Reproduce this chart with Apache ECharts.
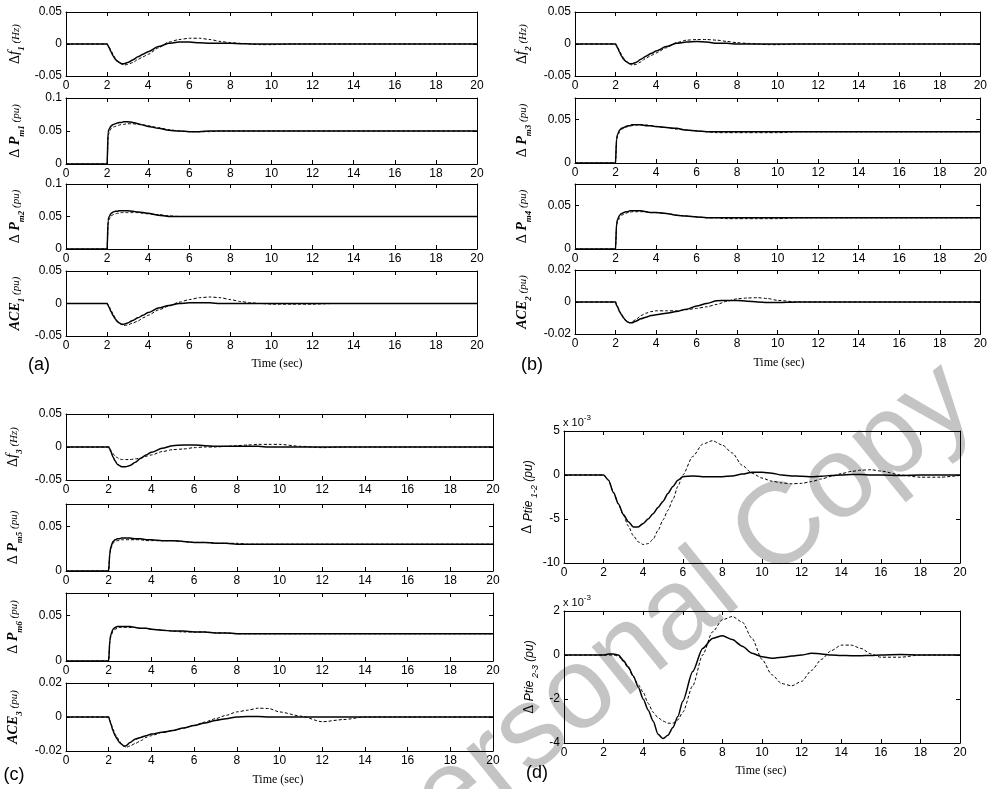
<!DOCTYPE html>
<html><head><meta charset="utf-8">
<script src="https://cdn.jsdelivr.net/npm/echarts@6/dist/echarts.min.js"></script>
<style>html,body{margin:0;padding:0;background:#fff}#c{width:990px;height:789px}</style>
</head><body><div id="c"></div>
<script>
// ---------- DATA ----------
const T = [0,2,2.05,2.1,2.2, 2.3,2.4,2.5,2.6,2.7, 2.8,3,3.25,3.5,3.75, 4,4.5,5,5.5,6, 6.5,7,7.5,8,8.5, 9,9.5,10,11,12, 13,14,16,18,20];
const xTicks = [0,2,4,6,8,10,12,14,16,18,20];

const df1Solid  = [0,0,-0.003,-0.006,-0.013, -0.019,-0.024,-0.027,-0.029,-0.031, -0.031,-0.029,-0.025,-0.020,-0.016, -0.012,-0.004,0.001,0.003,0.003, 0.002,0.001,0.001,0.001,0.0005, 0,0,0,0,0, 0,0,0,0,0];
const df1Dashed = [0,0,-0.002,-0.005,-0.011, -0.017,-0.022,-0.026,-0.029,-0.031, -0.033,-0.032,-0.029,-0.024,-0.020, -0.016,-0.006,0.003,0.007,0.009, 0.009,0.007,0.004,0.002,0.001, 0,-0.001,-0.001,0,0, 0,0,0,0,0];
const pm1Solid  = [0,0,0.048,0.053,0.058, 0.060,0.061,0.062,0.063,0.063, 0.064,0.064,0.063,0.061,0.059, 0.057,0.054,0.051,0.050,0.049, 0.049,0.050,0.050,0.050,0.050, 0.050,0.050,0.050,0.050,0.050, 0.050,0.050,0.050,0.050,0.050];
const pm1Dashed = [0,0,0.042,0.048,0.054, 0.056,0.057,0.058,0.059,0.060, 0.060,0.061,0.061,0.060,0.059, 0.058,0.055,0.052,0.050,0.049, 0.049,0.049,0.050,0.050,0.050, 0.050,0.050,0.050,0.050,0.050, 0.050,0.050,0.050,0.050,0.050];
const pm2Solid  = [0,0,0.044,0.050,0.055, 0.057,0.058,0.058,0.059,0.059, 0.059,0.059,0.058,0.057,0.056, 0.055,0.052,0.050,0.050,0.050, 0.050,0.050,0.050,0.050,0.050, 0.050,0.050,0.050,0.050,0.050, 0.050,0.050,0.050,0.050,0.050];
const pm2Dashed = [0,0,0.040,0.046,0.051, 0.053,0.054,0.055,0.055,0.056, 0.056,0.056,0.056,0.056,0.055, 0.054,0.053,0.051,0.050,0.050, 0.050,0.050,0.050,0.050,0.050, 0.050,0.050,0.050,0.050,0.050, 0.050,0.050,0.050,0.050,0.050];
const ace1Solid  = [0,0,-0.003,-0.006,-0.013, -0.019,-0.024,-0.028,-0.030,-0.032, -0.032,-0.030,-0.026,-0.022,-0.018, -0.014,-0.007,-0.003,0,0.001, 0.001,0.001,0,0,0, 0,0,0,0,0, 0,0,0,0,0];
const ace1Dashed = [0,0,-0.002,-0.005,-0.011, -0.017,-0.022,-0.027,-0.030,-0.032, -0.034,-0.033,-0.030,-0.027,-0.022, -0.018,-0.010,-0.004,0.002,0.006, 0.009,0.010,0.009,0.006,0.003, 0.001,0,-0.001,-0.001,-0.001, 0,0,0,0,0];

const df2Solid  = [0,0,-0.003,-0.006,-0.013, -0.019,-0.024,-0.027,-0.029,-0.031, -0.031,-0.029,-0.024,-0.019,-0.015, -0.011,-0.004,0.001,0.003,0.004, 0.003,0.001,0.001,0,0, 0,0,0,0,0, 0,0,0,0,0];
const df2Dashed = [0,0,-0.002,-0.005,-0.011, -0.017,-0.022,-0.026,-0.029,-0.031, -0.033,-0.032,-0.028,-0.022,-0.018, -0.014,-0.006,0.002,0.006,0.007, 0.007,0.006,0.004,0.002,0.001, 0,-0.001,-0.001,0,0, 0,0,0,0,0];
const pm3Solid  = [0,0,0.028,0.033,0.038, 0.040,0.041,0.042,0.043,0.043, 0.044,0.044,0.044,0.043,0.043, 0.042,0.041,0.040,0.038,0.037, 0.036,0.036,0.036,0.036,0.036, 0.036,0.036,0.036,0.036,0.036, 0.036,0.036,0.036,0.036,0.036];
const pm3Dashed = [0,0,0.026,0.031,0.036, 0.039,0.040,0.041,0.042,0.043, 0.043,0.044,0.044,0.044,0.043, 0.042,0.041,0.039,0.038,0.037, 0.036,0.035,0.035,0.035,0.035, 0.035,0.035,0.035,0.036,0.036, 0.036,0.036,0.036,0.036,0.036];
const pm4Solid  = [0,0,0.029,0.034,0.039, 0.041,0.042,0.043,0.043,0.044, 0.044,0.044,0.044,0.043,0.042, 0.042,0.041,0.039,0.038,0.037, 0.036,0.036,0.036,0.036,0.036, 0.036,0.036,0.036,0.036,0.036, 0.036,0.036,0.036,0.036,0.036];
const pm4Dashed = [0,0,0.026,0.031,0.036, 0.039,0.040,0.041,0.042,0.042, 0.043,0.043,0.043,0.043,0.042, 0.042,0.041,0.039,0.038,0.037, 0.036,0.036,0.035,0.035,0.035, 0.035,0.035,0.035,0.036,0.036, 0.036,0.036,0.036,0.036,0.036];
const ace2Solid  = [0,0,-0.002,-0.003,-0.006, -0.008,-0.010,-0.0115,-0.0125,-0.013, -0.013,-0.012,-0.0105,-0.0095,-0.0085, -0.008,-0.007,-0.006,-0.0045,-0.0025, -0.001,0.0008,0.001,0.001,0.0005, 0,-0.0003,-0.0003,0,0, 0,0,0,0,0];
const ace2Dashed = [0,0,-0.002,-0.003,-0.006, -0.008,-0.010,-0.0115,-0.0125,-0.013, -0.0125,-0.011,-0.0085,-0.007,-0.006, -0.0055,-0.0055,-0.0055,-0.0048,-0.004, -0.003,-0.0015,0.0005,0.002,0.0025, 0.0027,0.0022,0.001,0,0, 0,0,0,0,0];

const df3Solid  = [0,0,-0.003,-0.007,-0.015, -0.021,-0.026,-0.028,-0.030,-0.030, -0.030,-0.028,-0.023,-0.017,-0.012, -0.008,-0.002,0.002,0.003,0.003, 0.002,0.001,0.001,0.001,0.001, 0.001,0,0,0,0, 0,0,0,0,0];
const df3Dashed = [0,0,-0.002,-0.005,-0.010, -0.014,-0.016,-0.018,-0.019,-0.019, -0.019,-0.019,-0.018,-0.017,-0.014, -0.012,-0.007,-0.004,-0.003,-0.001, 0,0,0.001,0.002,0.003, 0.004,0.004,0.004,0.001,-0.001, 0,0,0,0,0];
const pm5Solid  = [0,0,0.020,0.027,0.033, 0.035,0.036,0.036,0.037,0.037, 0.037,0.037,0.036,0.036,0.035, 0.035,0.034,0.034,0.033,0.032, 0.032,0.031,0.031,0.030,0.030, 0.030,0.030,0.030,0.030,0.030, 0.030,0.030,0.030,0.030,0.030];
const pm5Dashed = [0,0,0.018,0.025,0.031, 0.033,0.034,0.034,0.035,0.035, 0.035,0.035,0.035,0.035,0.034, 0.034,0.034,0.034,0.033,0.032, 0.032,0.031,0.031,0.031,0.030, 0.030,0.030,0.030,0.030,0.030, 0.030,0.030,0.030,0.030,0.030];
const pm6Solid  = [0,0,0.022,0.029,0.035, 0.037,0.038,0.038,0.038,0.038, 0.038,0.038,0.037,0.036,0.036, 0.035,0.034,0.033,0.033,0.032, 0.032,0.031,0.031,0.030,0.030, 0.030,0.030,0.030,0.030,0.030, 0.030,0.030,0.030,0.030,0.030];
const pm6Dashed = [0,0,0.020,0.027,0.033, 0.035,0.036,0.037,0.037,0.037, 0.037,0.037,0.037,0.036,0.036, 0.035,0.034,0.033,0.032,0.032, 0.032,0.031,0.031,0.030,0.030, 0.030,0.030,0.030,0.030,0.030, 0.030,0.030,0.030,0.030,0.030];
const ace3Solid  = [0,0,-0.002,-0.004,-0.008, -0.011,-0.013,-0.015,-0.016,-0.017, -0.017,-0.015,-0.013,-0.012,-0.011, -0.010,-0.009,-0.008,-0.0065,-0.005, -0.0035,-0.002,-0.001,0,0.0003, 0.0003,0,0,0,0, 0,0,0,0,0];
const ace3Dashed = [0,0,-0.002,-0.004,-0.007, -0.010,-0.012,-0.014,-0.016,-0.017, -0.018,-0.017,-0.0155,-0.014,-0.012, -0.011,-0.009,-0.008,-0.0065,-0.005, -0.003,-0.001,0.001,0.003,0.004, 0.0052,0.005,0.003,0.0005,-0.0028, -0.0015,0,0,0,0];

// panel (d), values in units of 1e-3
const TD = [0,2,2.25,2.5,2.75, 3,3.25,3.5,3.75,4, 4.25,4.5,4.75,5,5.25, 5.5,5.75,6,6.5,7, 7.5,8,8.5,9,9.5, 10,10.5,11,11.5,12, 12.5,13,13.5,14,14.5, 15,15.5,16,17,18, 19,20];
const tie12Solid  = [0,0,-0.6,-2.0,-3.3, -4.5,-5.3,-5.9,-5.9,-5.5, -5.0,-4.4,-3.7,-3.0,-2.1, -1.3,-0.6,-0.2,-0.1,-0.2, -0.2,-0.2,-0.1,0.1,0.3, 0.3,0.2,0,-0.1,-0.15, -0.2,-0.15,-0.05,0,0.05, 0.05,0,0,-0.05,0, 0,0];
const tie12Dashed = [0,0,-0.6,-2.0,-3.3, -4.6,-5.8,-6.9,-7.6,-7.9, -7.8,-7.3,-6.3,-5.1,-4.0, -2.8,-1.3,0,2.1,3.5, 3.9,3.4,2.5,1.1,0.2, -0.35,-0.7,-0.9,-1.0,-0.95, -0.75,-0.45,-0.15,0.15,0.4, 0.55,0.6,0.45,0,-0.25, -0.25,-0.05];
const tie23Solid  = [0,0,0.05,0.05,0, -0.25,-0.55,-0.95,-1.45,-2.0, -2.5,-3.0,-3.6,-3.8,-3.65, -3.3,-2.8,-2.1,-0.75,0.3, 0.75,0.88,0.7,0.4,0.08, -0.08,-0.15,-0.1,-0.05,0, 0.08,0.05,0,-0.02,-0.03, -0.03,-0.02,0,0.02,0, 0,0];
const tie23Dashed = [0,0,0,0,-0.05, -0.3,-0.6,-1.0,-1.35,-1.7, -2.2,-2.6,-2.85,-3.0,-3.1, -3.1,-2.95,-2.6,-1.4,0, 1.05,1.6,1.75,1.5,0.75, -0.2,-0.9,-1.3,-1.4,-1.2, -0.7,-0.2,0.2,0.45,0.45, 0.3,0.05,-0.1,-0.1,0, 0,0];

// ---------- LAYOUT ----------
const SERIF = 'Liberation Serif';
const SANS = 'Liberation Sans';
const plots = [
  // (a)
  {l:66, t:12,  w:411, h:64, min:-0.05, max:0.05, step:0.05, name:'{d|Δ}{i|f}{s|1}{u| (Hz)}',  gap:40, x:T, s:df1Solid, dd:df1Dashed},
  {l:66, t:98,  w:411, h:66, min:0, max:0.1, step:0.05,      name:'{d|Δ }{b|P}{s|m1}{u| (pu)}', gap:40, x:T, s:pm1Solid, dd:pm1Dashed},
  {l:66, t:184, w:411, h:65, min:0, max:0.1, step:0.05,      name:'{d|Δ }{b|P}{s|m2}{u| (pu)}', gap:40, x:T, s:pm2Solid, dd:pm2Dashed},
  {l:66, t:271, w:411, h:65, min:-0.05, max:0.05, step:0.05, name:'{b|ACE}{s|1}{u| (pu)}',      gap:40, x:T, s:ace1Solid, dd:ace1Dashed},
  // (b)
  {l:575, t:12,  w:411, h:64, min:-0.05, max:0.05, step:0.05, name:'{d|Δ}{i|f}{s|2}{u| (Hz)}',  gap:42, x:T, s:df2Solid, dd:df2Dashed},
  {l:575, t:98,  w:411, h:65, min:0, max:0.075, step:0.05,    name:'{d|Δ }{b|P}{s|m3}{u| (pu)}', gap:42, x:T, s:pm3Solid, dd:pm3Dashed},
  {l:575, t:184, w:411, h:65, min:0, max:0.075, step:0.05,    name:'{d|Δ }{b|P}{s|m4}{u| (pu)}', gap:42, x:T, s:pm4Solid, dd:pm4Dashed},
  {l:575, t:270, w:411, h:64, min:-0.02, max:0.02, step:0.02, name:'{b|ACE}{s|2}{u| (pu)}',      gap:42, x:T, s:ace2Solid, dd:ace2Dashed},
  // (c)
  {l:66, t:414, w:427, h:66, min:-0.05, max:0.05, step:0.05, name:'{d|Δ}{i|f}{s|3}{u| (Hz)}',  gap:42, x:T, s:df3Solid, dd:df3Dashed},
  {l:66, t:504, w:427, h:67, min:0, max:0.075, step:0.05,    name:'{d|Δ }{b|P}{s|m5}{u| (pu)}', gap:42, x:T, s:pm5Solid, dd:pm5Dashed},
  {l:66, t:593, w:427, h:68, min:0, max:0.075, step:0.05,    name:'{d|Δ }{b|P}{s|m6}{u| (pu)}', gap:42, x:T, s:pm6Solid, dd:pm6Dashed},
  {l:66, t:683, w:427, h:68, min:-0.02, max:0.02, step:0.02, name:'{b|ACE}{s|3}{u| (pu)}',      gap:42, x:T, s:ace3Solid, dd:ace3Dashed},
  // (d)
  {l:564, t:431, w:396, h:132, min:-10, max:5, step:5, name:'{d|Δ }{p|Ptie}{q| 1-2}{p| (pu)}', gap:24, x:TD, s:tie12Solid, dd:tie12Dashed},
  {l:564, t:611, w:396, h:132, min:-4, max:2, step:2,  name:'{d|Δ }{p|Ptie}{q| 2-3}{p| (pu)}', gap:24, x:TD, s:tie23Solid, dd:tie23Dashed}
];

// normal tokens sit on a common baseline; subscript tokens drop below it
const base = (ff, fs, extra) => Object.assign({fontFamily: ff, fontSize: fs, lineHeight: Math.round(fs * 1.15),
  verticalAlign: 'bottom', padding: [0, 0, 4, 0], color: '#000'}, extra || {});
const rich = {
  d: base(SERIF, 14),
  i: base(SERIF, 15, {fontStyle: 'italic'}),
  b: base(SERIF, 14, {fontStyle: 'italic', fontWeight: 'bold'}),
  u: base(SERIF, 11, {fontStyle: 'italic'}),
  s: {fontFamily: SERIF, fontSize: 9, fontStyle: 'italic', fontWeight: 'bold', lineHeight: 10, verticalAlign: 'bottom', color: '#000'},
  p: base(SANS, 12, {fontStyle: 'italic'}),
  q: {fontFamily: SANS, fontSize: 9, fontStyle: 'italic', lineHeight: 10, verticalAlign: 'bottom', color: '#000'}
};

const axisLineStyle = {show: true, onZero: false, lineStyle: {color: '#000', width: 1}};
const tickStyle = {show: true, inside: true, length: 4, lineStyle: {color: '#000', width: 1}};

const grid = [], xAxis = [], yAxis = [], series = [];
plots.forEach((p, k) => {
  grid.push({left: p.l, top: p.t, width: p.w, height: p.h, containLabel: false});
  const xb = {type: 'value', gridIndex: k, min: xTicks[0], max: xTicks[xTicks.length - 1], interval: xTicks[1] - xTicks[0],
    axisLine: axisLineStyle, axisTick: tickStyle, splitLine: {show: false}};
  xAxis.push(Object.assign({}, xb, {position: 'bottom',
    axisLabel: {color: '#000', fontSize: 12, fontFamily: SANS, margin: 4}}));
  xAxis.push(Object.assign({}, xb, {position: 'top', axisLabel: {show: false}}));
  const step = p.step;
  const fmt = v => (Math.abs(v / step - Math.round(v / step)) < 1e-6) ? String(+v.toFixed(6)) : '';
  const ybase = {type: 'value', gridIndex: k, min: p.min, max: p.max, interval: step,
    axisLine: axisLineStyle, axisTick: tickStyle, splitLine: {show: false}};
  yAxis.push(Object.assign({}, ybase, {position: 'left',
    axisLabel: {color: '#000', fontSize: 12, fontFamily: SANS, margin: 4, formatter: fmt},
    name: p.name, nameLocation: 'middle', nameRotate: 90, nameGap: p.gap,
    nameTextStyle: {rich: rich}}));
  yAxis.push(Object.assign({}, ybase, {position: 'right', axisLabel: {show: false}}));
  const mk = (vals) => p.x.map((t, i) => [t, vals[i]]);
  series.push({type: 'line', xAxisIndex: 2 * k, yAxisIndex: 2 * k, data: mk(p.dd), symbol: 'none',
    smooth: 0.25, smoothMonotone: 'x', lineStyle: {color: '#000', width: 1, type: [3, 2]}, silent: true, animation: false});
  series.push({type: 'line', xAxisIndex: 2 * k, yAxisIndex: 2 * k, data: mk(p.s), symbol: 'none',
    smooth: 0.25, smoothMonotone: 'x', lineStyle: {color: '#000', width: 1.5}, silent: true, animation: false});
});

const txt = (x, y, text, font, extra) => ({type: 'text', x: x, y: y, z: 10,
  style: Object.assign({text: text, font: font, fill: '#000', align: 'center', verticalAlign: 'middle'}, extra || {})});
const sup = {a: {fontFamily: SANS, fontSize: 11, color: '#000', verticalAlign: 'bottom', lineHeight: 14},
             e: {fontFamily: SANS, fontSize: 8, color: '#000', verticalAlign: 'top', lineHeight: 14, padding: [0,0,6,0]}};
const graphic = [
  txt(39, 365, '(a)', '18px ' + SANS),
  txt(532, 365, '(b)', '18px ' + SANS),
  txt(14, 775, '(c)', '18px ' + SANS),
  txt(537, 773, '(d)', '18px ' + SANS),
  txt(277, 364, 'Time (sec)', '12px ' + SERIF),
  txt(779, 363, 'Time (sec)', '12px ' + SERIF),
  txt(278, 780, 'Time (sec)', '12px ' + SERIF),
  txt(761, 771, 'Time (sec)', '12px ' + SERIF),
  {type: 'text', x: 563, y: 414, z: 10, style: {text: '{a|x 10}{e|-3}', rich: sup, align: 'left', verticalAlign: 'top'}},
  {type: 'text', x: 563, y: 594, z: 10, style: {text: '{a|x 10}{e|-3}', rich: sup, align: 'left', verticalAlign: 'top'}},
  {type: 'text', x: 664, y: 626, z: 100, rotation: 39 * Math.PI / 180,
   style: {text: 'Personal Copy', font: '116px ' + SANS, fill: 'rgba(0,0,0,0.23)', align: 'center', verticalAlign: 'middle'}}
];

const chart = echarts.init(document.getElementById('c'), null, {renderer: 'canvas'});
chart.setOption({animation: false, backgroundColor: '#fff', grid, xAxis, yAxis, series, graphic});
</script></body></html>
